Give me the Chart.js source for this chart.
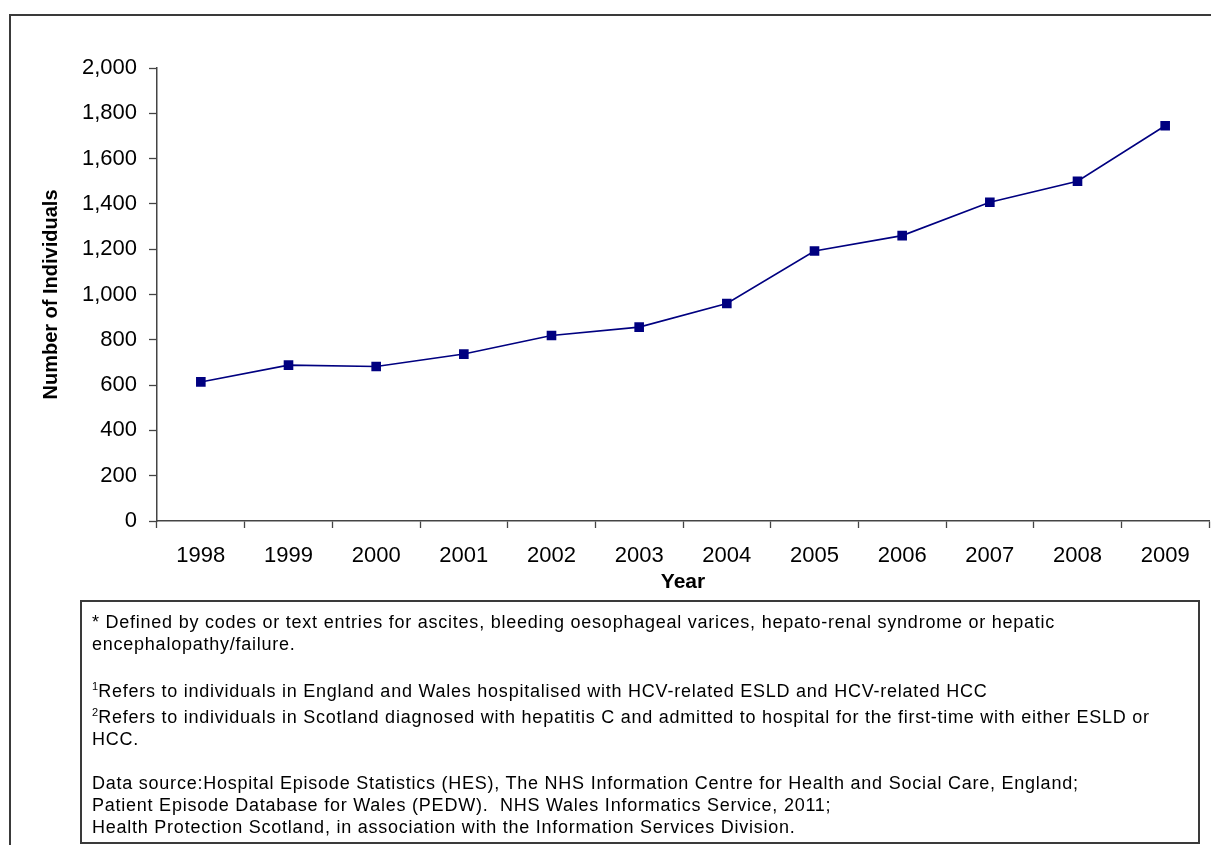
<!DOCTYPE html>
<html>
<head>
<meta charset="utf-8">
<script src="https://cdn.jsdelivr.net/npm/chart.js@4"></script>
<style>
    html, body { margin: 0; padding: 0; background: #fff; }
    #wrap { position: relative; width: 1211px; height: 845px; overflow: hidden; }
    #frame {
        position: absolute; left: 9px; top: 14px; width: 1220px; height: 850px;
        border-top: 2px solid #3a3a3a; border-left: 2px solid #3a3a3a;
    }
    #chart { position: absolute; left: 0; top: 0; }
    #notes {
        position: absolute; left: 80px; top: 600px; width: 1120px; height: 244px;
        border: 2px solid #3a3a3a; box-sizing: border-box;
        font-family: "Liberation Sans", Arial, sans-serif; font-size: 18px;
        letter-spacing: 0.76px;
        color: #000; line-height: 22px; padding: 9px 0 0 10px;
    }
    #notes p { margin: 0; }
    #notes sup { font-size: 11px; vertical-align: 7px; line-height: 0; letter-spacing: 0; }
</style>
</head>
<body>
<div id="wrap">
    <div id="frame"></div>
    <canvas id="chart" width="1211" height="845"></canvas>
    <div id="notes">
        <p>* Defined by codes or text entries for ascites, bleeding oesophageal varices, hepato-renal syndrome or hepatic<br>encephalopathy/failure.</p>
        <p style="margin-top:25px"><sup>1</sup>Refers to individuals in England and Wales hospitalised with HCV-related ESLD and HCV-related HCC</p>
        <p style="margin-top:4px"><sup>2</sup>Refers to individuals in Scotland diagnosed with hepatitis C and admitted to hospital for the first-time with either ESLD or<br>HCC.</p>
        <p style="margin-top:22px">Data source:Hospital Episode Statistics (HES), The NHS Information Centre for Health and Social Care, England;<br>Patient Episode Database for Wales (PEDW).&nbsp; NHS Wales Informatics Service, 2011;<br>Health Protection Scotland, in association with the Information Services Division.</p>
    </div>
</div>
<script>
    const
        years = ['1998', '1999', '2000', '2001', '2002', '2003', '2004', '2005', '2006', '2007', '2008', '2009'],
        individuals = [614, 688, 682, 737, 819, 856, 960, 1192, 1260, 1407, 1500, 1745];

    const
        yTitle = 'Number of Individuals',
        xTitle = 'Year',
        axisColor = '#444',
        lineColor = '#000080',
        fontFamily = '"Liberation Sans", Arial, sans-serif';

    Chart.defaults.font.family = fontFamily;
    Chart.defaults.color = '#000';

    new Chart(document.getElementById('chart'), {
        type: 'line',
        data: {
            labels: years,
            datasets: [{
                data: individuals,
                borderColor: lineColor,
                borderWidth: 1.6,
                backgroundColor: lineColor,
                pointStyle: 'rect',
                pointRadius: 6.8,
                pointBorderWidth: 0,
                pointHoverRadius: 6.8,
                tension: 0,
            }],
        },
        options: {
            responsive: false,
            animation: false,
            // 점 크기만큼 자동 여백이 생기지 않도록 끔
            layout: { autoPadding: false, padding: { left: 0, top: 68, right: 2, bottom: 244 } },
            plugins: {
                legend: { display: false },
                tooltip: { enabled: false },
            },
            scales: {
                x: {
                    offset: true,
                    grid: {
                        offset: true,
                        drawOnChartArea: false,
                        tickLength: 7,
                        tickColor: axisColor,
                        tickWidth: 1.3,
                    },
                    border: { color: axisColor, width: 1.5 },
                    ticks: { font: { size: 22 }, padding: 15, maxRotation: 0 },
                    title: {
                        display: true,
                        text: xTitle,
                        font: { size: 21, weight: 'bold' },
                        padding: { top: 0, bottom: 6 },
                    },
                    afterFit(scale) {
                        scale.height = 80;
                        scale.paddingLeft = 0;
                        scale.paddingRight = 0;
                    },
                },
                y: {
                    min: 0,
                    max: 2000,
                    grid: {
                        drawOnChartArea: false,
                        tickLength: 8,
                        tickColor: axisColor,
                        tickWidth: 1.3,
                    },
                    border: { color: axisColor, width: 1.5 },
                    ticks: {
                        stepSize: 200,
                        font: { size: 22 },
                        padding: 12,
                        callback: v => v.toLocaleString('en-US'),
                    },
                    title: {
                        display: true,
                        text: yTitle,
                        font: { size: 20, weight: 'bold' },
                        padding: { top: 39, bottom: 0 },
                    },
                    afterFit(scale) { scale.width = 157; },
                },
            },
        },
    });
</script>
</body>
</html>
